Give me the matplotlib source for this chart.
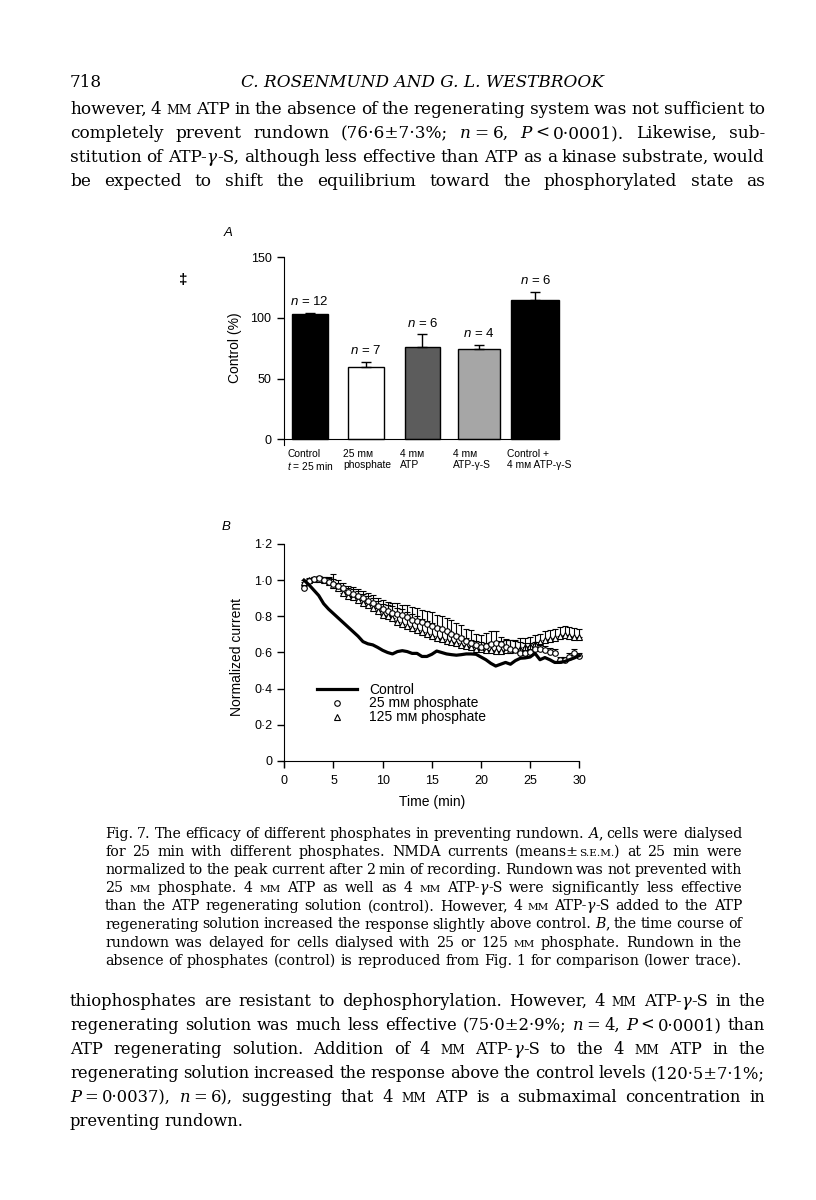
import re
import numpy as np
import matplotlib
matplotlib.use('Agg')
import matplotlib.pyplot as plt
from matplotlib.lines import Line2D

# ---------------- data, panel A ----------------
bar_labels = ['Control\n$t$ = 25 min', '25 m\u1d0d\nphosphate', '4 m\u1d0d\nATP',
              '4 m\u1d0d\nATP-\u03b3-S', 'Control +\n4 m\u1d0d ATP-\u03b3-S']
bar_means = [103.0, 60.0, 76.3, 74.8, 114.8]
bar_sem = [1.5, 4.0, 10.5, 3.0, 7.0]
bar_n = [12, 7, 6, 4, 6]

# ---------------- data, panel B ----------------
time_min = [2.0, 2.5, 3.0, 3.5, 4.0, 4.5, 5.0, 5.5, 6.0, 6.5,
            7.0, 7.5, 8.0, 8.5, 9.0, 9.5, 10.0, 10.5, 11.0, 11.5,
            12.0, 12.5, 13.0, 13.5, 14.0, 14.5, 15.0, 15.5, 16.0, 16.5,
            17.0, 17.5, 18.0, 18.5, 19.0, 19.5, 20.0, 20.5, 21.0, 21.5,
            22.0, 22.5, 23.0, 23.5, 24.0, 24.5, 25.0, 25.5, 26.0, 26.5,
            27.0, 27.5, 28.0, 28.5, 29.0, 29.5, 30.0]
control = [1.000, 0.975, 0.945, 0.915, 0.870, 0.840, 0.815, 0.790, 0.765, 0.740,
           0.715, 0.690, 0.660, 0.648, 0.642, 0.628, 0.612, 0.600, 0.592, 0.605,
           0.610, 0.605, 0.595, 0.595, 0.578, 0.578, 0.590, 0.608, 0.600, 0.592,
           0.588, 0.585, 0.588, 0.592, 0.592, 0.590, 0.575, 0.560, 0.540, 0.525,
           0.535, 0.545, 0.535, 0.555, 0.568, 0.570, 0.575, 0.595, 0.560, 0.572,
           0.560, 0.545, 0.545, 0.550, 0.560, 0.570, 0.583]
phos25 = [0.955, 0.995, 1.005, 1.010, 1.000, 0.990, 0.980, 0.970, 0.955, 0.935,
          0.925, 0.915, 0.900, 0.887, 0.872, 0.858, 0.842, 0.828, 0.820, 0.815,
          0.805, 0.795, 0.782, 0.775, 0.770, 0.758, 0.748, 0.738, 0.728, 0.718,
          0.705, 0.693, 0.680, 0.665, 0.652, 0.640, 0.632, 0.638, 0.645, 0.650,
          0.648, 0.628, 0.620, 0.612, 0.598, 0.595, 0.600, 0.622, 0.618, 0.612,
          0.605, 0.598, 0.560, 0.560, 0.575, 0.595, 0.583]
phos25_sem = [0.010, 0.010, 0.010, 0.015, 0.020, 0.020, 0.055, 0.030, 0.030, 0.030,
              0.035, 0.035, 0.040, 0.040, 0.045, 0.045, 0.050, 0.050, 0.055, 0.060,
              0.060, 0.065, 0.070, 0.070, 0.065, 0.070, 0.075, 0.070, 0.075, 0.070,
              0.075, 0.070, 0.070, 0.065, 0.070, 0.060, 0.065, 0.070, 0.075, 0.070,
              0.040, 0.045, 0.050, 0.050, 0.060, 0.060, 0.050, 0.035, 0.030, 0.025,
              0.020, 0.020, 0.015, 0.015, 0.020, 0.025, 0.015]
phos125 = [0.990, 1.000, 1.005, 1.005, 1.000, 0.990, 0.975, 0.955, 0.930, 0.915,
           0.905, 0.890, 0.875, 0.860, 0.845, 0.830, 0.810, 0.800, 0.790, 0.770,
           0.758, 0.745, 0.735, 0.726, 0.715, 0.705, 0.692, 0.682, 0.672, 0.665,
           0.658, 0.650, 0.643, 0.635, 0.628, 0.622, 0.618, 0.615, 0.612, 0.610,
           0.610, 0.612, 0.614, 0.618, 0.622, 0.628, 0.636, 0.648, 0.658, 0.668,
           0.675, 0.682, 0.690, 0.695, 0.692, 0.688, 0.686]
phos125_sem = [0.010, 0.010, 0.010, 0.015, 0.020, 0.030, 0.030, 0.030, 0.040, 0.040,
               0.045, 0.050, 0.050, 0.050, 0.055, 0.055, 0.060, 0.060, 0.065, 0.075,
               0.080, 0.080, 0.080, 0.075, 0.070, 0.070, 0.070, 0.065, 0.060, 0.055,
               0.050, 0.050, 0.050, 0.045, 0.040, 0.040, 0.040, 0.040, 0.045, 0.050,
               0.055, 0.055, 0.055, 0.050, 0.060, 0.050, 0.050, 0.050, 0.045, 0.050,
               0.050, 0.050, 0.050, 0.050, 0.050, 0.050, 0.045]
yticks_B = [0, 0.2, 0.4, 0.6, 0.8, 1.0, 1.2]
yticklabels_B = ['0', '0\u00b72', '0\u00b74', '0\u00b76', '0\u00b78', '1\u00b70', '1\u00b72']

# ---------------- page text ----------------
para_top = [
    "however, 4 {s:mm} ATP in the absence of the regenerating system was not sufficient to",
    "completely prevent rundown (76\u00b76\u00b17\u00b73%; {i:n}~=~6, {i:P}~<~0\u00b70001). Likewise, sub-",
    "stitution of ATP-{i:\u03b3}-S, although less effective than ATP as a kinase substrate, would",
    "be expected to shift the equilibrium toward the phosphorylated state as",
]
caption = [
    "Fig. 7. The efficacy of different phosphates in preventing rundown. {i:A}, cells were dialysed",
    "for 25 min with different phosphates. NMDA currents (means\u00b1{s:s.e.m.}) at 25 min were",
    "normalized to the peak current after 2 min of recording. Rundown was not prevented with",
    "25 {s:mm} phosphate. 4 {s:mm} ATP as well as 4 {s:mm} ATP-{i:\u03b3}-S were significantly less effective",
    "than the ATP regenerating solution (control). However, 4 {s:mm} ATP-{i:\u03b3}-S added to the ATP",
    "regenerating solution increased the response slightly above control. {i:B}, the time course of",
    "rundown was delayed for cells dialysed with 25 or 125 {s:mm} phosphate. Rundown in the",
    "absence of phosphates (control) is reproduced from Fig. 1 for comparison (lower trace).",
]
para_bottom = [
    "thiophosphates are resistant to dephosphorylation. However, 4 {s:mm} ATP-{i:\u03b3}-S in the",
    "regenerating solution was much less effective (75\u00b70\u00b12\u00b79%; {i:n}~=~4, {i:P}~<~0\u00b70001) than",
    "ATP regenerating solution. Addition of 4 {s:mm} ATP-{i:\u03b3}-S to the 4 {s:mm} ATP in the",
    "regenerating solution increased the response above the control levels (120\u00b75\u00b17\u00b71%;",
    "{i:P}~=~0\u00b70037), {i:n}~=~6), suggesting that 4 {s:mm} ATP is a submaximal concentration in",
    "preventing rundown.",
]

W, H = 816, 1200
SERIF = 'DejaVu Serif'
SANS = ['Liberation Sans', 'DejaVu Sans']
PX = 100 / 72.0  # pixels per point
plt.rcParams['font.family'] = SANS
plt.rcParams['mathtext.fontset'] = 'custom'
plt.rcParams['mathtext.it'] = 'Liberation Sans:italic'

fig = plt.figure(figsize=(W / 100, H / 100), dpi=100)
fig.patch.set_facecolor('white')
renderer = fig.canvas.get_renderer()


def fx(px):
    return px / W


def fy(py):
    return 1 - py / H


def pieces_of(word):
    out = []
    for k, grp in enumerate(word.split('~')):
        first = True
        for part in re.split(r'(\{[is]:[^}]*\})', grp):
            if not part:
                continue
            m = re.match(r'\{([is]):([^}]*)\}', part)
            sty, txt = (m.group(1), m.group(2)) if m else ('r', part)
            out.append((txt, sty, k > 0 and first))
            first = False
    return out


def build_line(line, size):
    words = []
    for w in line.split(' '):
        items = []
        for txt, sty, gap in pieces_of(w):
            kw = dict(family=SERIF, fontsize=size, va='baseline', ha='left')
            if sty == 'i':
                kw['style'] = 'italic'
            elif sty == 's':
                txt = txt.upper()
                kw['fontsize'] = size * 0.74
            t = fig.text(0, 0, txt, **kw)
            items.append((t, size * 0.22 * PX if gap else 0.0))
        words.append(items)
    widths = [sum(g + t.get_window_extent(renderer).width for t, g in it) for it in words]
    return words, widths


def fit_size(lines, width, s0, space_em, skip_last):
    best = 99.0
    for i, ln in enumerate(lines):
        if skip_last and i == len(lines) - 1:
            continue
        words, widths = build_line(ln, s0)
        for it in words:
            for t, g in it:
                t.remove()
        nat = sum(widths) / s0
        best = min(best, width / (nat + space_em * PX * (len(words) - 1)))
    return best


def put_para(lines, x0, x1, base0, step, space_em, last_justify=True, s0=10.0):
    size = fit_size(lines, x1 - x0, s0, space_em, not last_justify)
    for i, ln in enumerate(lines):
        just = last_justify or i < len(lines) - 1
        words, widths = build_line(ln, size)
        space = size * space_em * PX
        if just and len(words) > 1:
            space = (x1 - x0 - sum(widths)) / (len(words) - 1)
        x = x0
        for it in words:
            for t, g in it:
                x += g
                t.set_position((fx(x), fy(base0 + i * step)))
                x += t.get_window_extent(renderer).width
            x += space
    return size


# header + text blocks
body_size = put_para(para_top, 70, 765, 114, 24, 0.26)
put_para(caption, 105, 742, 838, 18.1, 0.24)
put_para(para_bottom, 70, 765, 1006, 24, 0.26, last_justify=False)
fig.text(fx(70), fy(87), '718', family=SERIF, fontsize=body_size, va='baseline')
fig.text(fx(422), fy(87), 'C. ROSENMUND AND G. L. WESTBROOK', family=SERIF,
         style='italic', fontsize=body_size, va='baseline', ha='center')

# ---------------- panel A ----------------
axA = fig.add_axes([fx(284), fy(445.4), (565 - 284) / W, (445.4 - 257.3) / H])
xa = np.arange(len(bar_means))
bar_widths = [0.64, 0.65, 0.63, 0.75, 0.85]
bar_colors = ['black', 'white', '#5c5c5c', '#a6a6a6', 'black']
axA.bar(xa, bar_means, width=bar_widths, color=bar_colors, edgecolor='black', linewidth=1, zorder=2)
axA.errorbar(xa, bar_means, yerr=[np.zeros(len(bar_sem)), bar_sem], fmt='none',
             ecolor='black', elinewidth=1, capsize=3.5, capthick=1, zorder=3)
for i in xa:
    axA.text(i, bar_means[i] + bar_sem[i] + 9, '$n$ = %d' % bar_n[i], ha='center', va='center', fontsize=9.5)
    axA.text(i - bar_widths[i] / 2 - 0.08, -8, bar_labels[i], ha='left', va='top', fontsize=7.4, linespacing=1.1)
axA.set_xlim(-0.456, 4.53)
axA.set_ylim(-5, 150)
axA.set_xticks([])
axA.set_yticks([0, 50, 100, 150])
axA.tick_params(axis='y', direction='out', length=5, width=1, labelsize=9, pad=4)
for s in ['top', 'right']:
    axA.spines[s].set_visible(False)
axA.spines['bottom'].set_position(('data', 0))
axA.spines['bottom'].set_bounds(-0.456, 4.425)
axA.spines['left'].set_bounds(-5, 150)
axA.set_ylabel('Control (%)', fontsize=10)
axA.yaxis.set_label_coords(-0.15, 0.52)
axA.patch.set_visible(False)
fig.text(fx(228), fy(233), 'A', style='italic', fontsize=9.5, ha='center', va='center')
fig.text(fx(183), fy(280), '\u2021', fontsize=11, weight='bold', ha='center', va='center')

# ---------------- panel B ----------------
axB = fig.add_axes([fx(284.3), fy(767.3), 295 / W, (767.3 - 544) / H])
zeros = np.zeros(len(time_min))
axB.errorbar(time_min, phos125, yerr=[zeros, phos125_sem], fmt='^', ms=3.8, mfc='white',
             mec='black', mew=0.8, ecolor='black', elinewidth=0.8, capsize=2.0, capthick=0.8,
             clip_on=False, zorder=3)
axB.errorbar(time_min, phos25, yerr=[zeros, phos25_sem], fmt='o', ms=4.0, mfc='white',
             mec='black', mew=0.8, ecolor='black', elinewidth=0.8, capsize=2.0, capthick=0.8,
             clip_on=False, zorder=4)
axB.plot(time_min, control, color='black', lw=2.3, zorder=5, clip_on=False)
axB.set_xlim(0, 30)
axB.set_ylim(-0.035, 1.2)
axB.set_xticks([0, 5, 10, 15, 20, 25, 30])
axB.set_yticks(yticks_B)
axB.set_yticklabels(yticklabels_B)
axB.tick_params(direction='out', length=5, width=1, labelsize=9)
axB.tick_params(axis='x', pad=5)
for s in ['top', 'right']:
    axB.spines[s].set_visible(False)
axB.spines['bottom'].set_position(('data', 0))
axB.spines['left'].set_bounds(-0.035, 1.2)
axB.set_xlabel('Time (min)', fontsize=10)
axB.xaxis.set_label_coords(0.5, -0.125)
axB.set_ylabel('Normalized current', fontsize=10)
axB.yaxis.set_label_coords(-0.135, 0.495)
axB.patch.set_visible(False)
handles = [Line2D([], [], color='black', lw=2.3),
           Line2D([], [], ls='none', marker='o', ms=4.0, mfc='white', mec='black', mew=0.8),
           Line2D([], [], ls='none', marker='^', ms=3.8, mfc='white', mec='black', mew=0.8)]
axB.legend(handles, ['Control', '25 m\u1d0d phosphate', '125 m\u1d0d phosphate'],
           loc='upper left', bbox_to_anchor=(fx(316.7), fy(682.5)), bbox_transform=fig.transFigure,
           frameon=False, fontsize=10, handlelength=2.9, handletextpad=0.85, labelspacing=0.0,
           borderpad=0, borderaxespad=0, numpoints=1)
fig.text(fx(226), fy(527), 'B', style='italic', fontsize=9.5, ha='center', va='center')

fig.savefig('out.png', dpi=100, facecolor='white')
